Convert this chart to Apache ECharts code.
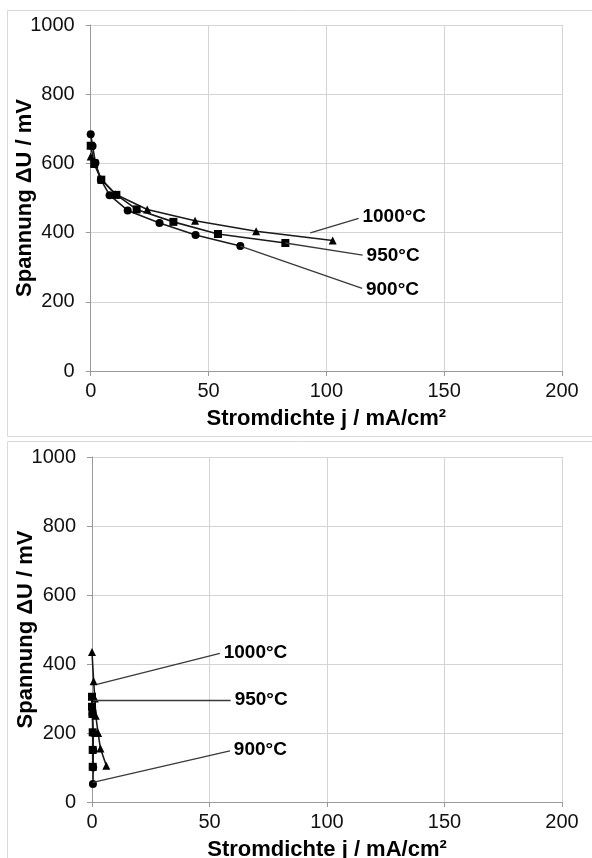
<!DOCTYPE html>
<html><head><meta charset="utf-8">
<script src="https://cdn.jsdelivr.net/npm/echarts@6/dist/echarts.min.js"></script>
<style>html,body{margin:0;padding:0;background:#fff}#c{width:592px;height:858px}</style>
</head><body><div id="c"></div>
<script>
const xTicks = [0, 50, 100, 150, 200];
const yTicks = [0, 200, 400, 600, 800, 1000];
const labels = ['900°C', '950°C', '1000°C'];
const xTitle = 'Stromdichte j / mA/cm²';
const yTitle = 'Spannung ΔU / mV';

// top chart
const top900 = [[0,684],[0.8,650],[2,602],[4.3,553],[8,508],[15.7,464],[29.2,428],[44.5,393],[63.5,361]];
const top950 = [[0,651],[1.5,600],[4.5,553],[10.9,509],[19.5,467],[35.1,431],[54,396],[82.6,370]];
const top1000 = [[0,620],[1.5,598],[4.6,553],[10.5,511],[24,467],[44.3,434],[70.2,404],[102.7,377]];
const topLead900 = [[63.5,361],[115.2,239]];
const topLead950 = [[82.6,370],[115.4,335]];
const topLead1000 = [[93.2,399],[113.7,441]];

// bottom chart
const bot900 = [[0.2,255],[0.5,200],[0.5,150],[0.5,100],[0.4,52]];
const bot950 = [[0,305],[0,276],[0.2,255],[0.3,202],[0.3,151],[0.3,102]];
const bot1000 = [[0,435],[0.7,350],[1.2,300],[1.6,250],[2.6,200],[3.6,155],[6.1,105]];
const botLead900 = [[0.4,57],[58.7,148]];
const botLead950 = [[0.5,296],[59,296]];
const botLead1000 = [[2.1,341],[54.4,431]];

const FONT = 'Liberation Sans, Arial, sans-serif';
const chart = echarts.init(document.getElementById('c'), null, {renderer:'canvas'});

function xAx(gi){
  return {gridIndex:gi, type:'value', min:xTicks[0], max:xTicks[xTicks.length-1], interval:xTicks[1]-xTicks[0],
    axisLine:{show:true,onZero:false,lineStyle:{color:'#9a9a9a',width:1}},
    axisTick:{show:true,length:5,lineStyle:{color:'#9a9a9a'}},
    splitLine:{show:true,lineStyle:{color:'#d4d4d4',width:1}},
    axisLabel:{fontSize:20,color:'#111',fontFamily:FONT,margin:10,formatter:v=>String(v)},
    name:xTitle, nameLocation:'middle', nameGap:37,
    nameTextStyle:{fontSize:22,fontWeight:'bold',color:'#000',fontFamily:FONT}};
}
function yAx(gi){
  return {gridIndex:gi, type:'value', min:yTicks[0], max:yTicks[yTicks.length-1], interval:yTicks[1]-yTicks[0],
    axisLine:{show:true,onZero:false,lineStyle:{color:'#9a9a9a',width:1}},
    axisTick:{show:true,length:5,lineStyle:{color:'#9a9a9a'}},
    splitLine:{show:true,lineStyle:{color:'#d4d4d4',width:1}},
    axisLabel:{fontSize:20,color:'#111',fontFamily:FONT,margin:16,formatter:v=>String(v)},
    name:yTitle, nameLocation:'middle', nameGap:55, nameRotate:90, nameMoveOverlap:false,
    nameTextStyle:{fontSize:22,fontWeight:'bold',color:'#000',fontFamily:FONT}};
}
function ser(gi, data, sym, size){
  return {type:'line', xAxisIndex:gi, yAxisIndex:gi, data:data, symbol:sym, symbolSize:size,
    showSymbol:true, lineStyle:{color:'#1a1a1a',width:1.6}, itemStyle:{color:'#000'},
    emphasis:{disabled:true}, z:3, animation:false};
}
function lead(gi, pts, text){
  return {type:'line', xAxisIndex:gi, yAxisIndex:gi, data:[], animation:false,
    markLine:{silent:true, symbol:'none', animation:false,
      lineStyle:{color:'#3a3a3a',width:1.4,type:'solid'},
      label:{show:true, position:'end', formatter:text, distance:4,
        fontSize:19, fontWeight:'bold', color:'#000', fontFamily:FONT},
      data:[[{coord:pts[0]},{coord:pts[1]}]]}};
}

chart.setOption({
  animation:false,
  grid:[{left:90.7, right:30, top:25, bottom:487, outerBoundsMode:'none', containLabel:false},
        {left:92, right:30, top:457, bottom:56, outerBoundsMode:'none', containLabel:false}],
  xAxis:[xAx(0), xAx(1)],
  yAxis:[yAx(0), yAx(1)],
  graphic:[
    {type:'rect', shape:{x:7.5,y:10.5,width:600,height:426}, style:{fill:'none',stroke:'#d9d9d9',lineWidth:1}, z:-1},
    {type:'rect', shape:{x:7.5,y:441.5,width:600,height:430}, style:{fill:'none',stroke:'#d9d9d9',lineWidth:1}, z:-1}
  ],
  series:[
    ser(0, top900, 'circle', 8), ser(0, top950, 'rect', 8), ser(0, top1000, 'triangle', 8),
    lead(0, topLead1000, labels[2]), lead(0, topLead950, labels[1]), lead(0, topLead900, labels[0]),
    ser(1, bot900, 'circle', 8), ser(1, bot950, 'rect', 8), ser(1, bot1000, 'triangle', 8),
    lead(1, botLead1000, labels[2]), lead(1, botLead950, labels[1]), lead(1, botLead900, labels[0])
  ]
});
</script></body></html>
